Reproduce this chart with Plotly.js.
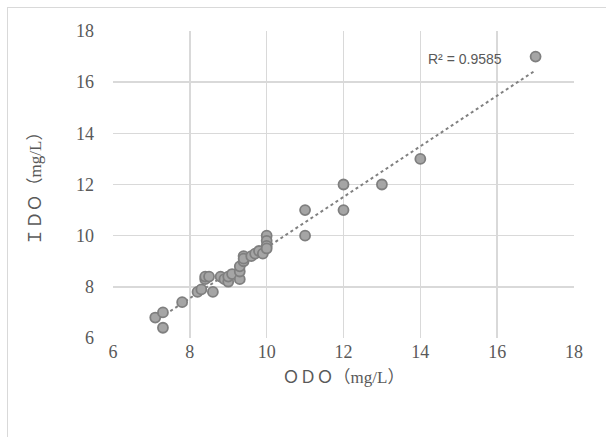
<!DOCTYPE html>
<html>
<head>
<meta charset="utf-8">
<script src="https://cdn.plot.ly/plotly-3.0.1.min.js"></script>
<style>
html,body{margin:0;padding:0;background:#fff;overflow:hidden;}
#frame{position:absolute;left:7px;top:7px;width:700px;height:500px;border-left:1px solid #d9d9d9;border-top:1px solid #d9d9d9;}
#chart{position:absolute;left:0;top:0;width:606px;height:437px;}
</style>
</head>
<body>
<div id="frame"></div>
<div id="chart"></div>
<script>
// ODO (x) and IDO (y), mg/L
const odo = [7.1, 7.3, 7.3, 7.8, 8.2, 8.3, 8.4, 8.4, 8.5, 8.6, 8.8, 8.9, 9.0, 9.0, 9.1, 9.3, 9.3, 9.3, 9.4, 9.4, 9.4, 9.6, 9.7, 9.8, 9.9, 10, 10, 10, 10, 11, 11, 12, 12, 13, 14, 17];
const ido = [6.8, 7.0, 6.4, 7.4, 7.8, 7.9, 8.3, 8.4, 8.4, 7.8, 8.4, 8.3, 8.2, 8.4, 8.5, 8.3, 8.6, 8.8, 9.0, 9.2, 9.1, 9.2, 9.3, 9.4, 9.3, 10, 9.8, 9.6, 9.5, 11, 10, 12, 11, 12, 13, 17];
const r2Label = "R² = 0.9585";
const xTicks = [6, 8, 10, 12, 14, 16, 18];
const yTicks = [6, 8, 10, 12, 14, 16, 18];

// least squares trendline from data
const n = odo.length;
const mx = odo.reduce((a,b)=>a+b,0)/n;
const my = ido.reduce((a,b)=>a+b,0)/n;
let sxy=0, sxx=0;
for (let i=0;i<n;i++){ sxy+=(odo[i]-mx)*(ido[i]-my); sxx+=(odo[i]-mx)**2; }
const slope = sxy/sxx, icpt = my - slope*mx;
const xmin = Math.min(...odo), xmax = Math.max(...odo);
const trendX = [xmin, xmax];
const trendY = trendX.map(v => icpt + slope*v);

const tickFont = {family: "Liberation Serif, DejaVu Serif, serif", size: 18, color: "#595959"};
const titleFont = {family: "Liberation Serif, Noto Sans CJK JP, serif", size: 17, color: "#595959"};

const data = [
  {x: trendX, y: trendY, mode: "lines", type: "scatter",
   line: {color: "#808080", width: 2, dash: "dot"}, hoverinfo: "skip", showlegend: false},
  {x: odo, y: ido, mode: "markers", type: "scatter",
   marker: {size: 10, color: "#a5a5a5", line: {color: "#7f7f7f", width: 1.8}}, showlegend: false}
];

const layout = {
  width: 606, height: 437,
  margin: {l: 113, r: 32, t: 31, b: 99},
  paper_bgcolor: "rgba(0,0,0,0)", plot_bgcolor: "rgba(0,0,0,0)",
  showlegend: false,
  xaxis: {range: [6, 18], tickvals: xTicks, ticktext: xTicks.map(String),
    showgrid: true, gridcolor: "#d9d9d9", gridwidth: 1.5, zeroline: false, showline: false,
    ticks: "", tickfont: tickFont, ticklabelstandoff: 1,
    title: {text: "ＯＤＯ（mg/L）", font: titleFont, standoff: 10}},
  yaxis: {range: [6, 18], tickvals: yTicks, ticktext: yTicks.map(String),
    showgrid: true, gridcolor: "#d9d9d9", gridwidth: 1.5, zeroline: false, showline: false,
    ticks: "", tickfont: tickFont, ticklabelstandoff: 18,
    title: {text: "ＩＤＯ（mg/L）", font: titleFont, standoff: 30}},
  annotations: [{x: 14.15, y: 16.9, xref: "x", yref: "y", text: r2Label, showarrow: false,
    xanchor: "left", yanchor: "middle",
    font: {family: "Liberation Sans, Carlito, sans-serif", size: 14, color: "#595959"}}]
};

Plotly.newPlot("chart", data, layout, {displayModeBar: false, staticPlot: true});
</script>
</body>
</html>
